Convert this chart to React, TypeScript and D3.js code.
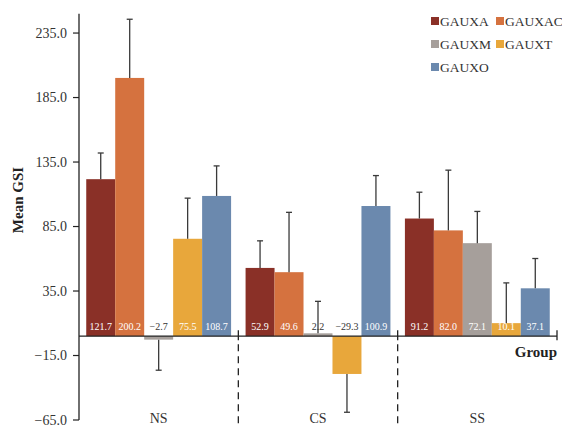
import React, { useEffect, useRef } from "react";
import * as d3 from "d3";

const groups = ["NS", "CS", "SS"];
const series = ["GAUXA", "GAUXAC", "GAUXM", "GAUXT", "GAUXO"];
const colors = ["#8a3027", "#d5723f", "#a69f9b", "#e8a73b", "#6b89ae"];
const valuesNS = [121.7, 200.2, -2.7, 75.5, 108.7];
const valuesCS = [52.9, 49.6, 2.2, -29.3, 100.9];
const valuesSS = [91.2, 82.0, 72.1, 10.1, 37.1];
const errorsNS = [20.3, 45.5, 23.7, 31.5, 23.3];
const errorsCS = [21.0, 46.4, 24.8, 29.7, 23.6];
const errorsSS = [20.4, 46.7, 24.6, 31.2, 23.1];
const yTicks = [-65, -15, 35, 85, 135, 185, 235];

const values = [valuesNS, valuesCS, valuesSS];
const errors = [errorsNS, errorsCS, errorsSS];

const font = "'Liberation Serif', 'Times New Roman', serif";

const App = () => {
  const ref = useRef<SVGSVGElement>(null);

  useEffect(() => {
    const svg = d3.select(ref.current);
    svg.selectAll("*").remove();

    const left = 79,
      right = 557,
      top = 13.7,
      bottom = 420;

    const y = d3.scaleLinear().domain([-65, 250]).range([bottom, top]);
    const x0 = d3.scaleBand().domain(groups).range([left, right]).padding(0);
    const x1 = d3
      .scaleBand()
      .domain(series)
      .range([0, x0.bandwidth()])
      .paddingInner(0)
      .paddingOuter(0.25);

    const g = svg.append("g");

    // bars
    groups.forEach((grp, gi) => {
      const gg = g.append("g").attr("transform", "translate(" + x0(grp) + ",0)");
      series.forEach((s, si) => {
        const v = values[gi][si];
        const e = errors[gi][si];
        const bx = x1(s) as number;
        const cx = bx + x1.bandwidth() / 2;
        gg.append("rect")
          .attr("x", bx)
          .attr("y", y(Math.max(0, v)))
          .attr("width", x1.bandwidth())
          .attr("height", Math.abs(y(v) - y(0)))
          .attr("fill", colors[si]);

        const end = v >= 0 ? v + e : v - e;
        gg.append("line")
          .attr("x1", cx)
          .attr("x2", cx)
          .attr("y1", y(v))
          .attr("y2", y(end))
          .attr("stroke", "#3a3a3a")
          .attr("stroke-width", 1.3);
        gg.append("line")
          .attr("x1", cx - 3)
          .attr("x2", cx + 3)
          .attr("y1", y(end))
          .attr("y2", y(end))
          .attr("stroke", "#3a3a3a")
          .attr("stroke-width", 1.3);

        const small = v < 0 || y(0) - y(v) < 11;
        gg.append("text")
          .attr("x", cx)
          .attr("y", y(0) - 6)
          .attr("text-anchor", "middle")
          .attr("font-family", font)
          .attr("font-size", 10)
          .attr("fill", small ? "#333" : "#fff")
          .text(v < 0 ? "\u2212" + Math.abs(v).toFixed(1) : v.toFixed(1));
      });
    });

    // y axis
    g.append("line")
      .attr("x1", left)
      .attr("x2", left)
      .attr("y1", top)
      .attr("y2", bottom)
      .attr("stroke", "#222")
      .attr("stroke-width", 1.3);
    yTicks.forEach((t) => {
      g.append("line")
        .attr("x1", left - 6)
        .attr("x2", left)
        .attr("y1", y(t))
        .attr("y2", y(t))
        .attr("stroke", "#222")
        .attr("stroke-width", 1.2);
      g.append("text")
        .attr("x", left - 12)
        .attr("y", y(t) + 4.5)
        .attr("text-anchor", "end")
        .attr("font-family", font)
        .attr("font-size", 14)
        .attr("fill", "#333")
        .text(t < 0 ? "\u2212" + Math.abs(t).toFixed(1) : t.toFixed(1));
    });

    // x axis at zero
    g.append("line")
      .attr("x1", left)
      .attr("x2", right)
      .attr("y1", y(0))
      .attr("y2", y(0))
      .attr("stroke", "#222")
      .attr("stroke-width", 1.3);

    const bounds = groups.map((grp) => (x0(grp) as number) + x0.bandwidth());
    bounds.forEach((bx, i) => {
      g.append("line")
        .attr("x1", bx)
        .attr("x2", bx)
        .attr("y1", y(0) - 6)
        .attr("y2", y(0) + 4)
        .attr("stroke", "#222")
        .attr("stroke-width", 1.3);
      if (i < bounds.length - 1) {
        g.append("line")
          .attr("x1", bx)
          .attr("x2", bx)
          .attr("y1", y(0) + 8)
          .attr("y2", 427)
          .attr("stroke", "#222")
          .attr("stroke-width", 1.3)
          .attr("stroke-dasharray", "7,5");
      }
    });

    groups.forEach((grp) => {
      g.append("text")
        .attr("x", (x0(grp) as number) + x0.bandwidth() / 2)
        .attr("y", 423)
        .attr("text-anchor", "middle")
        .attr("font-family", font)
        .attr("font-size", 14)
        .attr("fill", "#333")
        .text(grp);
    });

    g.append("text")
      .attr("x", right)
      .attr("y", 357)
      .attr("text-anchor", "end")
      .attr("font-family", font)
      .attr("font-size", 15)
      .attr("font-weight", "bold")
      .attr("fill", "#222")
      .text("Group");

    g.append("text")
      .attr("transform", "translate(23,200) rotate(-90)")
      .attr("text-anchor", "middle")
      .attr("font-family", font)
      .attr("font-size", 15)
      .attr("font-weight", "bold")
      .attr("fill", "#222")
      .text("Mean GSI");

    // legend
    const legX = [435, 500];
    const legY = [21, 44, 67];
    series.forEach((s, i) => {
      const lx = legX[i % 2];
      const ly = legY[Math.floor(i / 2)];
      g.append("rect")
        .attr("x", lx - 4)
        .attr("y", ly - 4)
        .attr("width", 8)
        .attr("height", 8)
        .attr("fill", colors[i]);
      g.append("text")
        .attr("x", lx + 5)
        .attr("y", ly + 5)
        .attr("font-family", font)
        .attr("font-size", 13.5)
        .attr("fill", "#333")
        .text(s);
    });
  }, []);

  return (
    <svg
      ref={ref}
      width={562}
      height={427}
      style={{ position: "absolute", left: 0, top: 0, background: "#fff" }}
    />
  );
};

export default App;
